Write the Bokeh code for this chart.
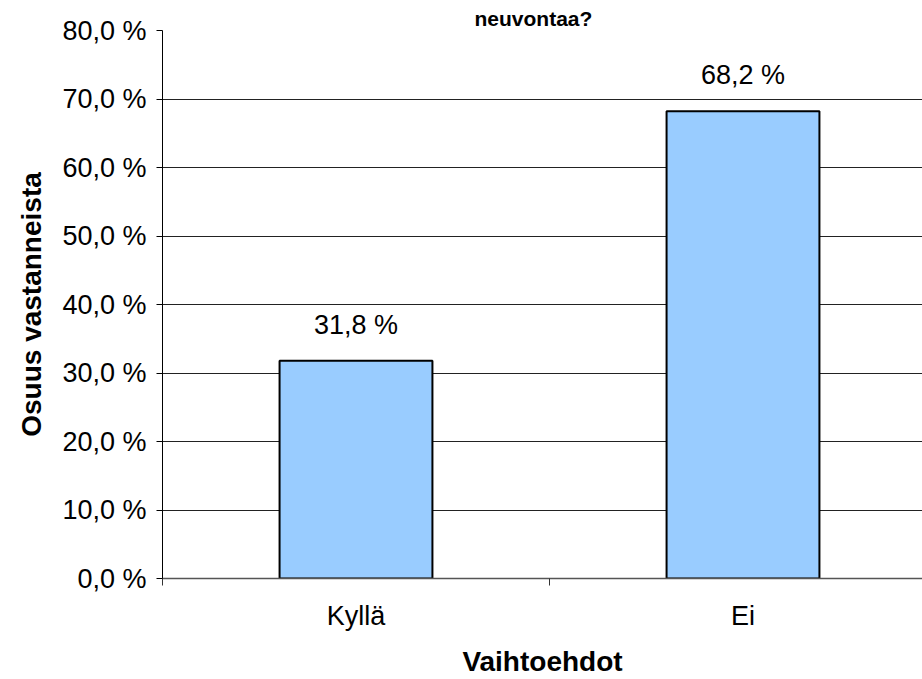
from bokeh.plotting import figure
from bokeh.models import ColumnDataSource, FixedTicker, LabelSet
from bokeh.core.properties import value
from bokeh.embed import file_html
from bokeh.resources import INLINE

categories = ["Kyllä", "Ei"]
values = [31.8, 68.2]
value_labels = ["31,8 %", "68,2 %"]
y_ticks = [0, 10, 20, 30, 40, 50, 60, 70, 80]
y_tick_labels = ["0,0 %", "10,0 %", "20,0 %", "30,0 %", "40,0 %",
                 "50,0 %", "60,0 %", "70,0 %", "80,0 %"]
title_text = "neuvontaa?"
x_title = "Vaihtoehdot"
y_title = "Osuus vastanneista"

FONT = "Liberation Sans"
W, H = 922, 679
LEFT, TOP, BOTTOM = 162, 30, 100
CAT_PX = 387

xpos = [i + 0.5 for i in range(len(categories))]
src = ColumnDataSource(dict(x=xpos, top=values, lab=value_labels))

p = figure(width=W, height=H, output_backend="svg", toolbar_location=None,
           x_range=(0, (W - LEFT) / CAT_PX), y_range=(0, 80),
           min_border_left=LEFT, min_border_right=0, min_border_top=TOP,
           min_border_bottom=BOTTOM)
p.outline_line_color = None
p.background_fill_color = "white"
p.border_fill_color = "white"

p.title.text = title_text
p.title.align = "left"
p.title.offset = 312
p.title.standoff = 2
p.title.text_font = FONT
p.title.text_font_style = "bold"
p.title.text_font_size = "21px"
p.title.text_color = "black"

p.vbar(x="x", top="top", bottom=0, width=0.395, source=src,
       fill_color="#99CCFF", line_color="black", line_width=2)

p.add_layout(LabelSet(x="x", y="top", text="lab", source=src,
                      text_align="center", text_baseline="alphabetic",
                      y_offset=27, text_font=value(FONT),
                      text_font_size=value("27px"), text_color="black"))

# y axis
p.yaxis.ticker = FixedTicker(ticks=y_ticks)
p.yaxis.major_label_overrides = {t: l for t, l in zip(y_ticks, y_tick_labels)}
p.yaxis.major_label_text_font = FONT
p.yaxis.major_label_text_font_size = "27px"
p.yaxis.major_label_text_color = "black"
p.yaxis.major_label_standoff = 10
p.yaxis.major_tick_out = 6
p.yaxis.major_tick_in = 0
p.yaxis.major_tick_line_color = "black"
p.yaxis.minor_tick_line_color = None
p.yaxis.axis_line_color = "black"
p.yaxis.axis_label = y_title
p.yaxis.axis_label_text_font = FONT
p.yaxis.axis_label_text_font_style = "bold"
p.yaxis.axis_label_text_font_size = "28px"
p.yaxis.axis_label_text_color = "black"
p.yaxis.axis_label_standoff = 12

# x axis
p.xaxis.ticker = FixedTicker(ticks=xpos, minor_ticks=[0, 1, 2])
p.xaxis.major_label_overrides = {x: c for x, c in zip(xpos, categories)}
p.xaxis.major_label_text_font = FONT
p.xaxis.major_label_text_font_size = "27px"
p.xaxis.major_label_text_color = "black"
p.xaxis.major_label_standoff = 15
p.xaxis.major_tick_out = 0
p.xaxis.major_tick_in = 0
p.xaxis.minor_tick_out = 7
p.xaxis.minor_tick_in = 0
p.xaxis.minor_tick_line_color = "#333333"
p.xaxis.axis_line_color = "#555555"
p.xaxis.axis_line_width = 1.5
p.xaxis.axis_label = x_title
p.xaxis.axis_label_text_font = FONT
p.xaxis.axis_label_text_font_style = "bold"
p.xaxis.axis_label_text_font_size = "28px"
p.xaxis.axis_label_text_color = "black"
p.xaxis.axis_label_standoff = 12

p.xgrid.grid_line_color = None
p.ygrid.ticker = FixedTicker(ticks=y_ticks)
p.ygrid.grid_line_color = "#222222"
p.ygrid.grid_line_width = 1

open("out.html", "w").write(file_html(p, INLINE))
